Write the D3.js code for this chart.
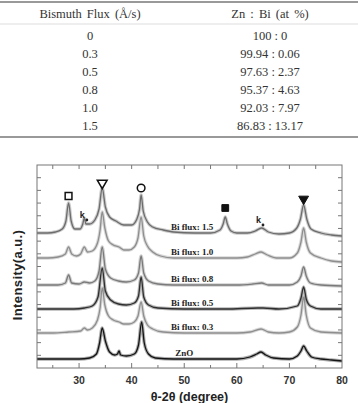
<!DOCTYPE html>
<html>
<head>
<meta charset="utf-8">
<script src="https://cdn.jsdelivr.net/npm/d3@7"></script>
<style>
  body { margin: 0; background: #fff; }
  svg { display: block; }
</style>
</head>
<body>
<svg id="fig" width="358" height="403"></svg>
<script>
// ---- table data ----
const tableHeaders = ["Bismuth Flux (Å/s)", "Zn : Bi (at %)"];
const fluxValues = ["0", "0.3", "0.5", "0.8", "1.0", "1.5"];
const ratioValues = ["100 : 0", "99.94 : 0.06", "97.63 : 2.37", "95.37 : 4.63", "92.03 : 7.97", "86.83 : 13.17"];

// ---- XRD data (2θ in degrees, intensity a.u. above each trace's baseline) ----
const traceNames = ["ZnO", "Bi flux: 0.3", "Bi flux: 0.5", "Bi flux: 0.8", "Bi flux: 1.0", "Bi flux: 1.5"];
const traceOffsets = [9, 35, 59, 83, 110, 135];

const specZnO = [[22,0],[26,0],[30,0],[32,1],[33.3,5],[33.9,16],[34.4,31],[35,18],[35.8,7],[36.8,4],[37.3,5],[37.6,8],[37.9,4],[39,3],[40.5,5],[41.3,14],[41.9,37],[42.4,16],[43.2,5],[44.5,1],[48,0],[55,0],[60,0],[62.5,2],[63.8,5],[64.6,7],[65.5,4],[67,1],[70,0],[71.5,3],[72.2,8],[72.7,13],[73.3,8],[74.2,2],[76,0],[78,-1],[80,-2]];
const spec03 = [[22,0],[25,0],[28,1],[30.3,2],[31,5],[31.6,3],[32.5,5],[33.5,13],[34,25],[34.4,45],[34.9,28],[35.6,17],[36.5,13],[37.6,11],[38.5,9],[39.5,9],[40.5,11],[41.2,17],[41.8,31],[42.3,17],[43,8],[44,4],[46,1],[50,0],[56,0],[60,0],[62.5,1],[64.6,4],[66,1],[68,0],[70,1],[71.5,6],[72.2,18],[72.7,36],[73.2,18],[74,5],[76,1],[80,0]];
const spec05 = [[22,0],[26,0],[29,0],[31,1],[32.5,3],[33.6,12],[34.4,41],[35,18],[36,9],[37.5,5],[39,4],[40.5,6],[41.3,13],[41.8,32],[42.3,12],[43.2,4],[45,1],[50,0],[58,0],[64,1],[65,1],[68,0],[71.5,3],[72.2,11],[72.7,22],[73.2,10],[74,3],[76,0],[80,0]];
const spec08 = [[22,0],[24,0],[26,0],[27.4,2],[28,10],[28.6,2],[30,1],[31,3],[32,2],[33,4],[33.8,14],[34.4,38],[35,16],[36,7],[37.5,4],[39,3],[40.5,5],[41.3,12],[41.8,29],[42.3,12],[43.2,4],[45,1],[48,0],[55,0],[60,0],[63,1],[64.7,2],[66,0],[70,0],[71.5,3],[72.2,9],[72.7,18],[73.2,9],[74,2],[76,0],[80,-1]];
const spec10 = [[22,0],[24,0],[26,1],[27.4,4],[28,11],[28.6,4],[29.5,2],[30.3,4],[31,11],[31.6,6],[32.5,7],[33.5,15],[34,28],[34.4,46],[34.9,30],[35.6,17],[36.5,13],[37.6,11],[38.5,8],[39.5,8],[40.5,11],[41.2,20],[41.8,41],[42.3,22],[43,12],[44,6],[45.5,2],[48,0],[52,0],[56,0],[60,0],[62,1],[63.5,4],[64.6,6],[65.8,3],[67.5,0],[70,0],[71.5,5],[72.2,16],[72.7,30],[73.2,16],[74,5],[76,0],[78,-3],[80,-4]];
const spec15 = [[22,0],[24,0],[25.5,1],[26.8,4],[27.5,12],[28,30],[28.5,12],[29.2,4],[30.2,4],[30.7,9],[31,15],[31.3,9],[32,9],[33,13],[33.8,24],[34.4,45],[35,26],[35.8,16],[37,12],[38.5,8],[40,8],[41,14],[41.5,24],[41.8,38],[42.2,22],[43,11],[44,6],[46,3],[48,1],[52,0],[55,0],[56.8,3],[57.4,9],[57.8,16],[58.2,9],[58.9,2],[60,0],[62,0],[63.5,2],[64.7,5],[66,1],[68,-1],[70,0],[71.4,5],[72.1,14],[72.7,28],[73.3,14],[74.1,4],[76,0],[78,-2],[80,-3]];
const spectra = [specZnO, spec03, spec05, spec08, spec10, spec15];

// phase markers: 2θ, intensity, symbol
const markerTheta = [28, 34.4, 41.8, 57.8, 72.7];
const markerLevel = [172, 185, 180, 160, 169];
const markerKinds = ["openSquare", "openTriDown", "openCircle", "square", "triDown"];
const kTheta = [31, 64.5];
const kLevel = [153, 148];
const xTicks = [30, 40, 50, 60, 70, 80];

const svg = d3.select("#fig");

// ---------- table ----------
const table = svg.append("g").attr("font-family", "'Liberation Serif', 'Times New Roman', serif")
  .attr("font-size", 12.5).attr("fill", "#333");
const colX = d3.scalePoint().domain([0, 1]).range([90, 270]);
const rowY = d3.scalePoint().domain(d3.range(fluxValues.length)).range([36, 126]);

table.append("line").attr("x1", 0).attr("x2", 358).attr("y1", 2).attr("y2", 2).attr("stroke", "#999").attr("stroke-width", 2);
table.append("line").attr("x1", 0).attr("x2", 358).attr("y1", 24).attr("y2", 24).attr("stroke", "#ddd").attr("stroke-width", 1);
table.append("line").attr("x1", 0).attr("x2", 358).attr("y1", 137).attr("y2", 137).attr("stroke", "#999").attr("stroke-width", 2);

table.selectAll("text.head").data(tableHeaders).join("text").attr("class", "head")
  .attr("x", (d, i) => colX(i)).attr("y", 14).attr("dy", "0.35em")
  .attr("text-anchor", "middle").attr("word-spacing", 2).text(d => d);
table.selectAll("text.flux").data(fluxValues).join("text").attr("class", "flux")
  .attr("x", colX(0)).attr("y", (d, i) => rowY(i)).attr("dy", "0.35em")
  .attr("text-anchor", "middle").text(d => d);
table.selectAll("text.ratio").data(ratioValues).join("text").attr("class", "ratio")
  .attr("x", colX(1)).attr("y", (d, i) => rowY(i)).attr("dy", "0.35em")
  .attr("text-anchor", "middle").text(d => d);

// ---------- XRD chart ----------
const plot = { left: 37, right: 342, top: 165, bottom: 368 };
const x = d3.scaleLinear().domain([22, 80]).range([plot.left, plot.right]);
const y = d3.scaleLinear().domain([0, 203]).range([plot.bottom, plot.top]);
const chart = svg.append("g");

svg.append("clipPath").attr("id", "plotclip").append("rect")
  .attr("x", plot.left).attr("y", plot.top)
  .attr("width", plot.right - plot.left).attr("height", plot.bottom - plot.top);

const traceColors = ["#141414", "#8e8e8e", "#2e2e2e", "#7a7a7a", "#8e8e8e", "#6c6c6c"];
const lineFor = off => d3.line().x(d => x(d[0])).y(d => y(off + d[1])).curve(d3.curveMonotoneX);

const traces = chart.append("g").attr("clip-path", "url(#plotclip)");
spectra.forEach((spec, i) => {
  const path = lineFor(traceOffsets[i])(spec);
  // fuzzy band imitating the noisy scan
  traces.append("path").attr("d", path).attr("fill", "none")
    .attr("stroke", traceColors[i]).attr("stroke-width", 3.4).attr("stroke-opacity", 0.35);
  traces.append("path").attr("d", path).attr("fill", "none")
    .attr("stroke", traceColors[i]).attr("stroke-width", 1.3);
});

// frame
chart.append("rect").attr("x", plot.left).attr("y", plot.top)
  .attr("width", plot.right - plot.left).attr("height", plot.bottom - plot.top)
  .attr("fill", "none").attr("stroke", "#777").attr("stroke-width", 1);

// ticks (all inward)
const xTickAll = d3.range(25, 80, 5);
const yTickAll = d3.range(1, 16).map(i => i * 203 / 16);
const tickColor = "#777";
chart.selectAll("line.tb").data(xTickAll).join("line").attr("class", "tb")
  .attr("x1", d => x(d)).attr("x2", d => x(d))
  .attr("y1", plot.bottom).attr("y2", d => plot.bottom - (d % 10 === 0 ? 5 : 3))
  .attr("stroke", tickColor);
chart.selectAll("line.tt").data(xTickAll).join("line").attr("class", "tt")
  .attr("x1", d => x(d)).attr("x2", d => x(d))
  .attr("y1", plot.top).attr("y2", plot.top + 4)
  .attr("stroke", tickColor);
chart.selectAll("line.tl").data(yTickAll).join("line").attr("class", "tl")
  .attr("x1", plot.left).attr("x2", plot.left + 4)
  .attr("y1", d => y(d)).attr("y2", d => y(d)).attr("stroke", tickColor);
chart.selectAll("line.tr").data(yTickAll).join("line").attr("class", "tr")
  .attr("x1", plot.right).attr("x2", plot.right - 4)
  .attr("y1", d => y(d)).attr("y2", d => y(d)).attr("stroke", tickColor);

// tick labels
chart.selectAll("text.xl").data(xTicks).join("text").attr("class", "xl")
  .attr("x", d => x(d)).attr("y", plot.bottom + 16)
  .attr("text-anchor", "middle")
  .attr("font-family", "Arial, 'Liberation Sans', sans-serif").attr("font-weight", "bold")
  .attr("font-size", 10.5).attr("fill", "#333").text(d => d);

// axis titles
chart.append("text").attr("x", (plot.left + plot.right) / 2).attr("y", 401)
  .attr("text-anchor", "middle")
  .attr("font-family", "Arial, 'Liberation Sans', sans-serif").attr("font-weight", "bold")
  .attr("font-size", 12.5).attr("fill", "#222").text("θ-2θ (degree)");
chart.append("text").attr("transform", "translate(22,275) rotate(-90)")
  .attr("text-anchor", "middle")
  .attr("font-family", "Arial, 'Liberation Sans', sans-serif").attr("font-weight", "bold")
  .attr("font-size", 13).attr("letter-spacing", 0.4).attr("fill", "#222").text("Intensity(a.u.)");

// trace labels
const labelTheta = [48.3, 47.5, 47.5, 47.5, 47.5, 47.5];
chart.selectAll("text.tlab").data(traceNames).join("text").attr("class", "tlab")
  .attr("x", (d, i) => x(labelTheta[i])).attr("y", (d, i) => y(traceOffsets[i]) - 6)
  .attr("dy", "0.35em")
  .attr("font-family", "'Liberation Serif', 'Times New Roman', serif").attr("font-weight", "bold")
  .attr("font-size", 9).attr("fill", "#222").text(d => d);

// phase markers
const symType = { openSquare: d3.symbolSquare, square: d3.symbolSquare, openCircle: d3.symbolCircle,
  openTriDown: d3.symbolTriangle, triDown: d3.symbolTriangle };
markerKinds.forEach((k, i) => {
  const open = k.startsWith("open");
  const tri = k.toLowerCase().includes("tri");
  chart.append("path")
    .attr("d", d3.symbol().type(symType[k]).size(tri ? 42 : 46)())
    .attr("transform", `translate(${x(markerTheta[i])},${y(markerLevel[i])})${tri ? " rotate(180)" : ""}`)
    .attr("fill", open ? "none" : "#111")
    .attr("stroke", "#111").attr("stroke-width", open ? 1.5 : 1);
});

// k labels with dot
kTheta.forEach((t, i) => {
  chart.append("text").attr("x", x(t) - 2).attr("y", y(kLevel[i]))
    .attr("dy", "0.35em").attr("text-anchor", "middle")
    .attr("font-family", "Arial, 'Liberation Sans', sans-serif").attr("font-weight", "bold")
    .attr("font-size", 9).attr("fill", "#222").text("k");
  chart.append("circle").attr("cx", x(t) + 2.5).attr("cy", y(kLevel[i]) + 5)
    .attr("r", 1.4).attr("fill", "#222");
});
</script>
</body>
</html>
